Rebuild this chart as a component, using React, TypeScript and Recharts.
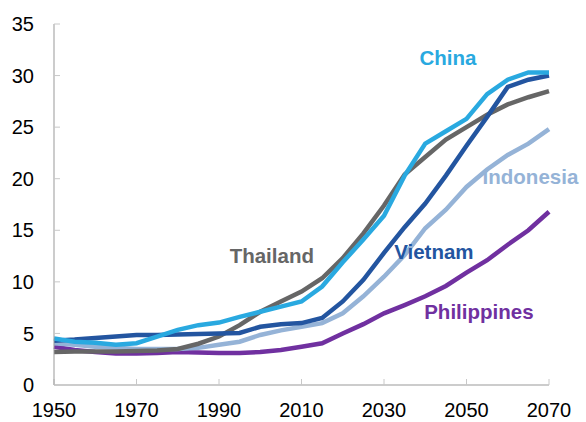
import React from "react";
import { LineChart, Line, XAxis, YAxis, ReferenceDot } from "recharts";

const years = [
  1950, 1955, 1960, 1965, 1970, 1975, 1980, 1985, 1990, 1995, 2000, 2005, 2010,
  2015, 2020, 2025, 2030, 2035, 2040, 2045, 2050, 2055, 2060, 2065, 2070,
];
const china = [
  4.5, 4.2, 4.1, 3.9, 4.05, 4.7, 5.35, 5.8, 6.05, 6.6, 7.1, 7.6, 8.1, 9.55,
  11.9, 14.1, 16.4, 20.3, 23.4, 24.6, 25.8, 28.2, 29.6, 30.3, 30.3,
];
const vietnam = [
  4.3, 4.4, 4.55, 4.7, 4.85, 4.85, 4.9, 4.95, 5.0, 5.05, 5.65, 5.9, 6.0, 6.5,
  8.1, 10.2, 12.8, 15.3, 17.6, 20.3, 23.2, 26.0, 28.9, 29.6, 30.0,
];
const thailand = [
  3.2, 3.25, 3.25, 3.25, 3.3, 3.35, 3.5, 4.0, 4.7, 5.8, 7.1, 8.1, 9.05, 10.35,
  12.3, 14.7, 17.4, 20.4, 22.1, 23.8, 25.0, 26.2, 27.2, 27.9, 28.5,
];
const indonesia = [
  4.05, 3.9, 3.7, 3.6, 3.5, 3.5, 3.5, 3.6, 3.9, 4.2, 4.85, 5.3, 5.65, 6.0,
  6.95, 8.6, 10.5, 12.6, 15.2, 17.0, 19.2, 20.9, 22.3, 23.4, 24.8,
];
const philippines = [
  3.7, 3.4, 3.2, 3.05, 3.05, 3.1, 3.2, 3.15, 3.1, 3.1, 3.2, 3.4, 3.7, 4.04,
  5.0, 5.9, 6.95, 7.75, 8.6, 9.6, 10.9, 12.1, 13.6, 15.0, 16.8,
];
const xTicks = [1950, 1970, 1990, 2010, 2030, 2050, 2070];
const yTicks = [0, 5, 10, 15, 20, 25, 30, 35];

const data = years.map((year, i) => ({
  year,
  china: china[i],
  vietnam: vietnam[i],
  thailand: thailand[i],
  indonesia: indonesia[i],
  philippines: philippines[i],
}));

const series = [
  { key: "philippines", color: "#7030A0" },
  { key: "indonesia", color: "#95B3D7" },
  { key: "thailand", color: "#666666" },
  { key: "vietnam", color: "#2355A0" },
  { key: "china", color: "#29A9E0" },
];

const labels = [
  { text: "China", x: 2045.5, y: 31.7, color: "#29A9E0" },
  { text: "Indonesia", x: 2065.5, y: 20.2, color: "#95B3D7" },
  { text: "Thailand", x: 2002.8, y: 12.5, color: "#666666" },
  { text: "Vietnam", x: 2042.1, y: 12.9, color: "#2355A0" },
  { text: "Philippines", x: 2053, y: 7.1, color: "#7030A0" },
];

const font = "'Liberation Sans', Arial, sans-serif";

export default function App() {
  return (
    <div style={{ position: "absolute", left: 0, top: 0, fontFamily: font }}>
      <LineChart
        width={586}
        height={422}
        data={data}
        margin={{ top: 24, right: 37, bottom: 7, left: 0 }}
      >
        <XAxis
          dataKey="year"
          type="number"
          domain={[1950, 2070]}
          ticks={xTicks}
          height={30}
          stroke="#999999"
          tickSize={-6}
          tickMargin={24}
          tickLine={{ stroke: "#c8c8c8" }}
          tick={{ fill: "#000", fontSize: 20, fontFamily: font }}
        />
        <YAxis
          domain={[0, 35]}
          ticks={yTicks}
          width={54}
          stroke="#999999"
          tickSize={-6}
          tickMargin={26}
          tickLine={{ stroke: "#c8c8c8" }}
          tick={{ fill: "#000", fontSize: 20, fontFamily: font }}
        />
        {series.map((s) => (
          <Line
            key={s.key}
            dataKey={s.key}
            stroke={s.color}
            strokeWidth={4.5}
            dot={false}
            type="linear"
            isAnimationActive={false}
          />
        ))}
        {labels.map((l) => (
          <ReferenceDot
            key={l.text}
            x={l.x}
            y={l.y}
            r={0}
            ifOverflow="visible"
            label={{
              value: l.text,
              position: "center",
              fill: l.color,
              fontSize: 20.5,
              fontWeight: "bold",
              fontFamily: font,
            }}
          />
        ))}
      </LineChart>
    </div>
  );
}
